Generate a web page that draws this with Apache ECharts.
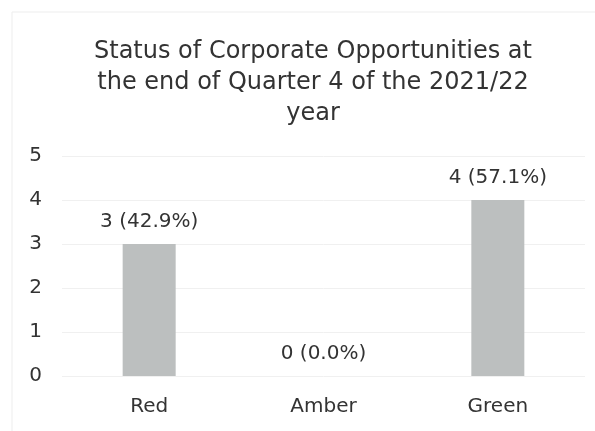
<!DOCTYPE html>
<html>
<head>
<meta charset="utf-8">
<script src="https://cdn.jsdelivr.net/npm/echarts@6/dist/echarts.min.js"></script>
<style>
  html, body { margin: 0; padding: 0; background: #ffffff; }
  #chart { width: 595px; height: 431px; }
</style>
</head>
<body>
<div id="chart"></div>
<script>
// Opportunity counts by RAG status
const categories = ['Red', 'Amber', 'Green'];
const counts = [3, 0, 4];
const yTicks = [0, 1, 2, 3, 4, 5];

const total = counts.reduce((a, b) => a + b, 0);
const FONT = '"DejaVu Sans", sans-serif';
const TEXT = '#333333';

const chart = echarts.init(document.getElementById('chart'), null, { renderer: 'canvas' });
chart.setOption({
  backgroundColor: '#ffffff',
  animation: false,
  title: {
    text: 'Status of Corporate Opportunities at\nthe end of Quarter 4 of the 2021/22\nyear',
    left: 313,
    top: 36,
    padding: 0,
    textAlign: 'center',
    textStyle: {
      fontFamily: FONT,
      fontSize: 24,
      fontWeight: 'normal',
      color: TEXT,
      lineHeight: 31
    }
  },
  graphic: [{
    type: 'rect',
    shape: { x: 12, y: 12, width: 600, height: 430 },
    style: { fill: 'none', stroke: '#ededed', lineWidth: 1 },
    silent: true,
    z: -1
  }],
  grid: { left: 62, right: 10, top: 156, bottom: 55 },
  xAxis: {
    type: 'category',
    data: categories,
    axisLine: { show: false },
    axisTick: { show: false },
    axisLabel: {
      margin: 21,
      fontFamily: FONT,
      fontSize: 20,
      color: TEXT
    }
  },
  yAxis: {
    type: 'value',
    min: yTicks[0],
    max: yTicks[yTicks.length - 1],
    interval: 1,
    axisLine: { show: false },
    axisTick: { show: false },
    splitLine: { lineStyle: { color: '#f0f0f0', width: 1 } },
    axisLabel: {
      margin: 20,
      fontFamily: FONT,
      fontSize: 20,
      color: TEXT
    }
  },
  series: [{
    type: 'bar',
    data: counts,
    barWidth: 53,
    itemStyle: { color: '#bcbfbf' },
    label: {
      show: true,
      position: 'top',
      distance: 12,
      fontFamily: FONT,
      fontSize: 20,
      color: TEXT,
      formatter: p => p.value + ' (' + (p.value / total * 100).toFixed(1) + '%)'
    }
  }]
});
</script>
</body>
</html>
